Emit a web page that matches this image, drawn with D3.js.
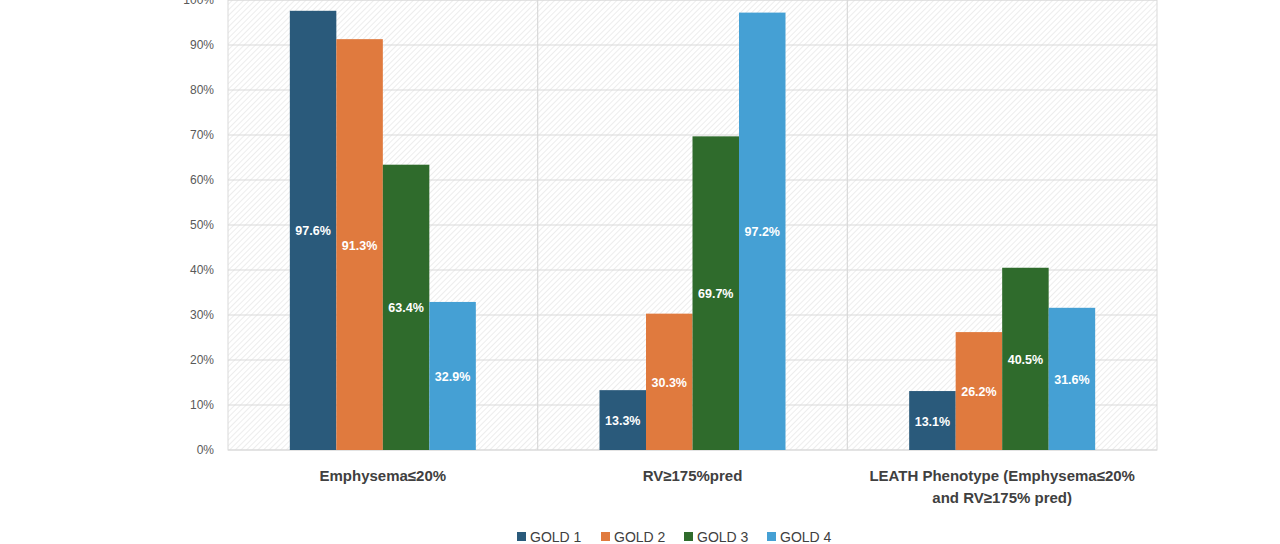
<!DOCTYPE html>
<meta charset="utf-8">
<style>
body { margin: 0; background: #fff; }
text { font-family: "Liberation Sans", Arial, sans-serif; }
.tick text { font-size: 12px; fill: #595959; }
.cat { font-size: 15px; font-weight: bold; fill: #404040; }
.val { font-size: 12.5px; font-weight: bold; fill: #fff; }
.leg { font-size: 14px; fill: #404040; }
</style>
<svg width="1280" height="544"></svg>
<script src="https://cdn.jsdelivr.net/npm/d3@7"></script>
<script>

var categories = ["Emphysema≤20%", "RV≥175%pred", "LEATH Phenotype (Emphysema≤20%|and RV≥175% pred)"];
var series = ["GOLD 1", "GOLD 2", "GOLD 3", "GOLD 4"];
var colors = ["#2a5a7b", "#e07a3e", "#2f6b2c", "#45a0d4"];
var values = [
  [97.6, 91.3, 63.4, 32.9],
  [13.3, 30.3, 69.7, 97.2],
  [13.1, 26.2, 40.5, 31.6]
];
var yTicks = [0, 10, 20, 30, 40, 50, 60, 70, 80, 90, 100];

var svg = d3.select("svg"),
    plotLeft = 228, plotRight = 1157, plotTop = 0, plotBottom = 450;

var defs = svg.append("defs");
var pat = defs.append("pattern").attr("id", "hatch")
    .attr("width", 4).attr("height", 4)
    .attr("patternUnits", "userSpaceOnUse")
    .attr("patternTransform", "rotate(45)");
pat.append("rect").attr("width", 4).attr("height", 4).attr("fill", "#fff");
pat.append("line").attr("x1", 0).attr("y1", 0).attr("x2", 0).attr("y2", 4)
    .attr("stroke", "#e8e8e8").attr("stroke-width", 1.5);

var x = d3.scaleBand().domain(categories).range([plotLeft, plotRight]);
var x1 = d3.scaleBand().domain(series).range([0, 186]);
var y = d3.scaleLinear().domain([0, 100]).range([plotBottom, plotTop]);

svg.append("rect").attr("x", plotLeft).attr("y", plotTop)
    .attr("width", plotRight - plotLeft).attr("height", plotBottom - plotTop)
    .attr("fill", "url(#hatch)").attr("stroke", "#d9d9d9");

svg.selectAll(".grid").data(yTicks).enter().append("line")
    .attr("x1", plotLeft).attr("x2", plotRight)
    .attr("y1", d => y(d)).attr("y2", d => y(d))
    .attr("stroke", "#d9d9d9").attr("stroke-width", 1.2);

svg.selectAll(".vsep").data(categories.slice(1)).enter().append("line")
    .attr("x1", d => x(d)).attr("x2", d => x(d))
    .attr("y1", plotTop).attr("y2", plotBottom)
    .attr("stroke", "#d9d9d9").attr("stroke-width", 1.2);

var yAxis = svg.append("g").attr("class", "tick")
    .attr("transform", "translate(" + plotLeft + ",0)")
    .call(d3.axisLeft(y).tickValues(yTicks).tickFormat(d => d + "%").tickSize(0).tickPadding(14));
yAxis.select(".domain").remove();

var groups = svg.selectAll(".grp").data(categories).enter().append("g")
    .attr("transform", d => "translate(" + (x(d) + x.bandwidth() / 2 - 93) + ",0)");

groups.each(function(c, ci) {
  var g = d3.select(this);
  series.forEach(function(s, si) {
    var v = values[ci][si];
    g.append("rect").attr("x", x1(s)).attr("y", y(v))
        .attr("width", x1.bandwidth()).attr("height", plotBottom - y(v))
        .attr("fill", colors[si]);
    g.append("text").attr("class", "val")
        .attr("x", x1(s) + x1.bandwidth() / 2)
        .attr("y", y(v / 2) + 5)
        .attr("text-anchor", "middle").text(v.toFixed(1) + "%");
  });
});

svg.selectAll(".cat").data(categories).enter().append("text")
    .attr("class", "cat").attr("text-anchor", "middle")
    .each(function(d) {
      var t = d3.select(this), lines = d.split("|");
      lines.forEach(function(l, i) {
        t.append("tspan").attr("x", x(d) + x.bandwidth() / 2)
            .attr("y", 481 + i * 22).text(l);
      });
    });

var legX = [517, 601, 684, 767];
var leg = svg.selectAll(".legi").data(series).enter().append("g")
    .attr("transform", (d, i) => "translate(" + legX[i] + ",542)");
leg.append("rect").attr("x", 0).attr("y", -10).attr("width", 9).attr("height", 9)
    .attr("fill", (d, i) => colors[i]);
leg.append("text").attr("class", "leg").attr("x", 13).attr("y", 0).text(d => d);

</script>
